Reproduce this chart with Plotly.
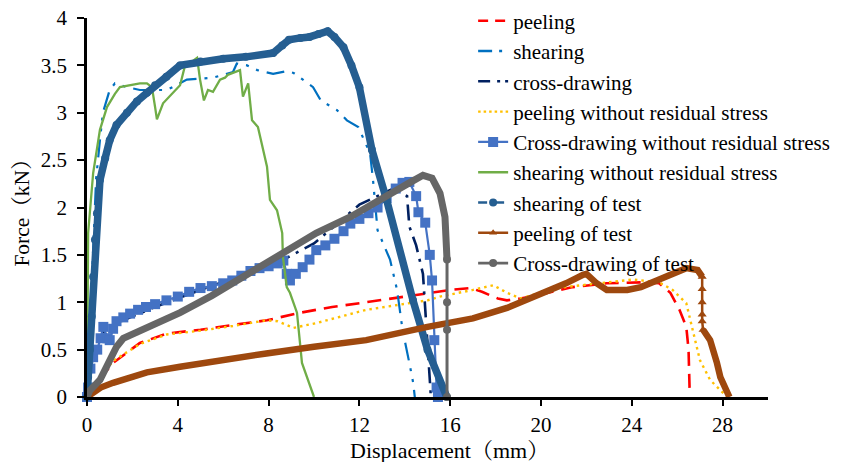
import plotly.graph_objects as go

# ---------------- data ----------------
peel_x = [0, 0.5, 1.15, 2.33, 3.52, 5.0, 6.43, 7.93, 9.4, 10.8, 12.3, 15.0, 16.0, 16.9, 17.4, 18.1, 18.5, 19.1, 19.96, 21.4, 22.9, 24.4, 25.2, 25.7, 26.1, 26.4, 26.5, 26.55]
peel_y = [0, 0.17, 0.36, 0.57, 0.67, 0.71, 0.76, 0.81, 0.89, 0.95, 1.0, 1.1, 1.13, 1.15, 1.11, 1.04, 1.02, 1.04, 1.08, 1.16, 1.2, 1.21, 1.2, 1.1, 0.92, 0.74, 0.5, 0.05]

shear_x = [0, 0.2, 0.4, 0.57, 0.7, 1.0, 1.23, 1.76, 2.33, 2.78, 3.52, 4.4, 5.55, 6.43, 6.6, 7.05, 7.5, 8.2, 8.8, 9.1, 9.96, 10.3, 11.0, 11.45, 11.95, 12.47, 12.6, 12.8, 13.05, 13.35, 13.66, 13.9, 14.2, 14.37, 14.44]
shear_y = [0, 1.2, 2.3, 2.71, 3.0, 3.24, 3.31, 3.27, 3.24, 3.24, 3.24, 3.35, 3.37, 3.43, 3.52, 3.5, 3.45, 3.41, 3.44, 3.42, 3.27, 3.13, 3.03, 2.92, 2.85, 2.57, 2.29, 1.76, 1.62, 1.45, 1.13, 0.71, 0.36, 0.15, 0]

cross_x = [0, 0.15, 0.3, 0.7, 1.0, 1.5, 3.0, 5.0, 7.0, 8.5, 10.0, 12.0, 13.5, 14.1, 14.2, 14.5, 14.8, 15.0, 15.15]
cross_y = [0, 0.3, 0.45, 0.7, 0.62, 0.8, 0.95, 1.13, 1.3, 1.43, 1.62, 2.03, 2.2, 2.12, 1.8, 1.6, 1.3, 0.5, 0]

peelnr_x = [0, 0.5, 1.15, 2.33, 3.52, 5.0, 6.43, 7.9, 8.4, 9.1, 10.1, 12.3, 15.0, 15.55, 17.0, 17.9, 18.5, 19.1, 20.7, 21.85, 22.9, 24.05, 25.2, 25.8, 26.4, 26.7, 27.0, 27.45, 27.9, 28.2]
peelnr_y = [0, 0.18, 0.38, 0.56, 0.66, 0.7, 0.75, 0.81, 0.8, 0.73, 0.78, 0.92, 1.02, 1.06, 1.13, 1.18, 1.1, 1.04, 1.15, 1.18, 1.21, 1.24, 1.21, 1.13, 0.99, 0.68, 0.39, 0.18, 0.07, 0]

crossnr_x = [0, 0.05, 0.15, 0.27, 0.45, 0.6, 0.72, 0.9, 1.0, 1.15, 1.3, 1.6, 1.9, 2.25, 2.6, 3.0, 3.5, 4.0, 4.5, 5.0, 5.5, 6.0, 6.4, 6.8, 7.2, 7.6, 8.0, 8.4, 8.65, 8.8, 8.94, 9.2, 9.5, 9.8, 10.1, 10.5, 10.9, 11.3, 11.6, 12.0, 12.4, 12.8, 13.2, 13.6, 13.9, 14.2, 14.5, 14.6, 14.9, 15.1, 15.2, 15.3, 15.4, 15.46]
crossnr_y = [0, 0.1, 0.3, 0.42, 0.5, 0.62, 0.74, 0.62, 0.6, 0.72, 0.8, 0.84, 0.88, 0.92, 0.95, 0.98, 1.02, 1.06, 1.11, 1.15, 1.17, 1.2, 1.23, 1.28, 1.33, 1.36, 1.38, 1.41, 1.44, 1.3, 1.23, 1.3, 1.37, 1.45, 1.55, 1.6, 1.67, 1.75, 1.83, 1.88, 1.94, 2.0, 2.1, 2.2, 2.26, 2.27, 2.12, 1.95, 1.84, 1.5, 1.23, 0.6, 0.1, 0]

shearnr_x = [0, 0.05, 0.27, 0.57, 0.88, 1.23, 1.45, 1.9, 2.33, 2.64, 2.86, 3.0, 3.08, 3.35, 3.8, 4.1, 4.3, 4.85, 4.98, 5.15, 5.33, 5.55, 5.86, 6.08, 6.2, 6.52, 6.74, 6.87, 7.1, 7.27, 7.53, 7.93, 8.06, 8.37, 8.6, 8.63, 8.8, 8.94, 9.25, 9.47, 9.74, 9.96, 10.0]
shearnr_y = [0, 1.73, 2.36, 2.82, 3.06, 3.2, 3.27, 3.29, 3.31, 3.31, 3.27, 3.06, 2.93, 3.1, 3.21, 3.29, 3.48, 3.58, 3.35, 3.13, 3.24, 3.22, 3.35, 3.37, 3.4, 3.43, 3.45, 3.17, 3.31, 2.92, 2.85, 2.43, 2.08, 1.97, 1.73, 1.48, 1.16, 1.1, 0.89, 0.36, 0.18, 0.04, 0]

sheart_x = [0, 0.05, 0.13, 0.21, 0.27, 0.35, 0.44, 0.57, 0.8, 1.0, 1.3, 1.76, 2.2, 2.64, 3.0, 3.5, 4.1, 5.0, 6.0, 7.0, 8.2, 8.6, 8.9, 9.4, 9.8, 10.2, 10.6, 10.9, 11.3, 11.65, 12.0, 12.55, 13.2, 14.36, 15.0, 15.85]
sheart_y = [0, 0.21, 0.5, 0.85, 1.27, 1.66, 1.94, 2.29, 2.52, 2.71, 2.87, 3.0, 3.12, 3.21, 3.29, 3.38, 3.5, 3.54, 3.57, 3.59, 3.63, 3.71, 3.77, 3.79, 3.8, 3.83, 3.86, 3.8, 3.69, 3.5, 3.27, 2.61, 2.08, 1.02, 0.5, 0]

peelt_x = [0, 0.2, 0.6, 1.15, 1.9, 2.64, 4.1, 5.8, 7.9, 10.0, 12.3, 15.0, 15.55, 17.0, 18.5, 19.96, 21.1, 21.85, 22.0, 22.45, 22.9, 23.8, 24.4, 25.1, 25.8, 26.4, 26.9, 27.1, 27.1, 27.1, 27.1, 27.1, 27.14, 27.45, 27.75, 27.9, 28.3]
peelt_y = [0, 0.04, 0.1, 0.15, 0.21, 0.26, 0.32, 0.39, 0.46, 0.53, 0.6, 0.74, 0.76, 0.83, 0.94, 1.08, 1.2, 1.29, 1.3, 1.2, 1.13, 1.13, 1.16, 1.23, 1.31, 1.36, 1.34, 1.27, 1.14, 1.0, 0.87, 0.8, 0.71, 0.6, 0.36, 0.21, 0]

crosst_x = [0, 0.13, 0.57, 1.0, 1.3, 1.6, 2.64, 4.1, 5.5, 7.2, 8.65, 10.1, 11.6, 13.05, 14.2, 14.8, 15.2, 15.55, 15.77, 15.86, 15.86, 15.86, 15.86]
crosst_y = [0, 0.07, 0.18, 0.39, 0.53, 0.62, 0.73, 0.89, 1.07, 1.31, 1.52, 1.73, 1.9, 2.11, 2.26, 2.34, 2.31, 2.15, 1.9, 1.45, 1.0, 0.71, 0]

names = ["peeling", "shearing", "cross-drawing", "peeling without residual stress",
         "Cross-drawing without residual stress", "shearing without residual stress",
         "shearing of test", "peeling of test", "Cross-drawing of test"]

x_ticks = [0, 4, 8, 12, 16, 20, 24, 28]
y_ticks = [0, 0.5, 1, 1.5, 2, 2.5, 3, 3.5, 4]
x_title = "Displacement（mm）"
y_title = "Force（kN）"

FONT = "Times New Roman, Liberation Serif, Noto Serif CJK SC, serif"

fig = go.Figure()


def real(x, y, line, mode="lines", marker=None):
    kw = dict(x=x, y=y, mode=mode, line=line, showlegend=False, cliponaxis=False, hoverinfo="skip")
    if marker is not None:
        kw["marker"] = marker
    fig.add_trace(go.Scatter(**kw))


def proxy(name, line, marker=None):
    kw = dict(x=[None], y=[None], mode="lines+markers" if marker else "lines",
              name=name, line=line, showlegend=True)
    if marker is not None:
        kw["marker"] = marker
    fig.add_trace(go.Scatter(**kw))


# peeling
real(peel_x, peel_y, dict(color="#FF0000", width=2.6, dash="14px,8px"))
proxy(names[0], dict(color="#FF0000", width=2.6, dash="10px,7px"))
# shearing
real(shear_x, shear_y, dict(color="#0070C0", width=2.2, dash="18px,8px,3px,8px,3px,8px"))
proxy(names[1], dict(color="#0070C0", width=2.4, dash="14px,7px,3px,6px,3px,6px"))
# cross-drawing
real(cross_x, cross_y, dict(color="#002060", width=2.6, dash="16px,7px,3px,7px"))
proxy(names[2], dict(color="#002060", width=2.6, dash="12px,7px,3px,5px"))
# peeling without residual stress
real(peelnr_x, peelnr_y, dict(color="#FFC000", width=2.4, dash="2.5px,4px"))
proxy(names[3], dict(color="#FFC000", width=2.4, dash="2.5px,3px"))
# Cross-drawing without residual stress
sq = dict(symbol="square", size=10, color="#4472C4")
real(crossnr_x, crossnr_y, dict(color="#4472C4", width=2.2), mode="lines+markers", marker=sq)
proxy(names[4], dict(color="#4472C4", width=2.4), sq)
# shearing without residual stress
real(shearnr_x, shearnr_y, dict(color="#70AD47", width=2.3))
proxy(names[5], dict(color="#70AD47", width=2.6))
# shearing of test
real(sheart_x, sheart_y, dict(color="#255E91", width=7.5), mode="lines+markers",
     marker=dict(symbol="circle", size=8, color="#255E91"))
proxy(names[6], dict(color="#255E91", width=2.6, dash="9px,8px"),
      dict(symbol="circle", size=8, color="#255E91"))
# peeling of test: dense part thick, sparse vertical drop thin with triangles
k1, k2 = 27, 32
tri = dict(symbol="triangle-up", size=8, color="#9E480E")
real(peelt_x[:k1 + 1], peelt_y[:k1 + 1], dict(color="#9E480E", width=6.5))
real(peelt_x[k1:k2 + 1], peelt_y[k1:k2 + 1], dict(color="#9E480E", width=2.5), mode="lines+markers", marker=tri)
real(peelt_x[k2:], peelt_y[k2:], dict(color="#9E480E", width=6.5))
proxy(names[7], dict(color="#9E480E", width=2.6), dict(symbol="triangle-up", size=7, color="#9E480E"))
# Cross-drawing of test
k3 = 19
cir = dict(symbol="circle", size=8, color="#666666")
real(crosst_x[:k3 + 1], crosst_y[:k3 + 1], dict(color="#666666", width=7))
real(crosst_x[k3:], crosst_y[k3:], dict(color="#666666", width=3), mode="lines+markers", marker=cir)
proxy(names[8], dict(color="#666666", width=2.6), cir)

fig.add_annotation(text=x_title, xref="paper", yref="paper", x=0.533, y=-0.14,
                   xanchor="center", yanchor="middle", showarrow=False,
                   font=dict(family=FONT, size=22, color="#000000"))

fig.update_layout(
    width=859, height=462,
    margin=dict(l=87, r=91, t=18, b=65, autoexpand=False),
    plot_bgcolor="white", paper_bgcolor="white",
    font=dict(family=FONT, size=21, color="#000000"),
    legend=dict(x=0.567, y=1.046, xanchor="left", yanchor="top",
                bgcolor="rgba(0,0,0,0)", font=dict(family=FONT, size=21, color="#000000"),
                tracegroupgap=0, itemwidth=30, maxheight=460),
    xaxis=dict(range=[0, 30], tickvals=x_ticks, ticktext=[str(v) for v in x_ticks],
               showgrid=False, zeroline=False, showline=True, linecolor="black", linewidth=2.5,
               ticks="outside", ticklen=6, tickwidth=2, tickcolor="black",
               ticklabelstandoff=1, automargin=False,
               tickfont=dict(family=FONT, size=21, color="#000000")),
    yaxis=dict(range=[0, 4], tickvals=y_ticks, ticktext=[f"{v:g}" for v in y_ticks],
               showgrid=False, zeroline=False, showline=True, linecolor="black", linewidth=2.5,
               ticks="outside", ticklen=7, tickwidth=2, tickcolor="black",
               ticklabelstandoff=6, automargin=False,
               title=dict(text=y_title, standoff=6,
                          font=dict(family=FONT, size=21.5, color="#000000")),
               tickfont=dict(family=FONT, size=21, color="#000000")),
)

fig.write_html("out.html")
